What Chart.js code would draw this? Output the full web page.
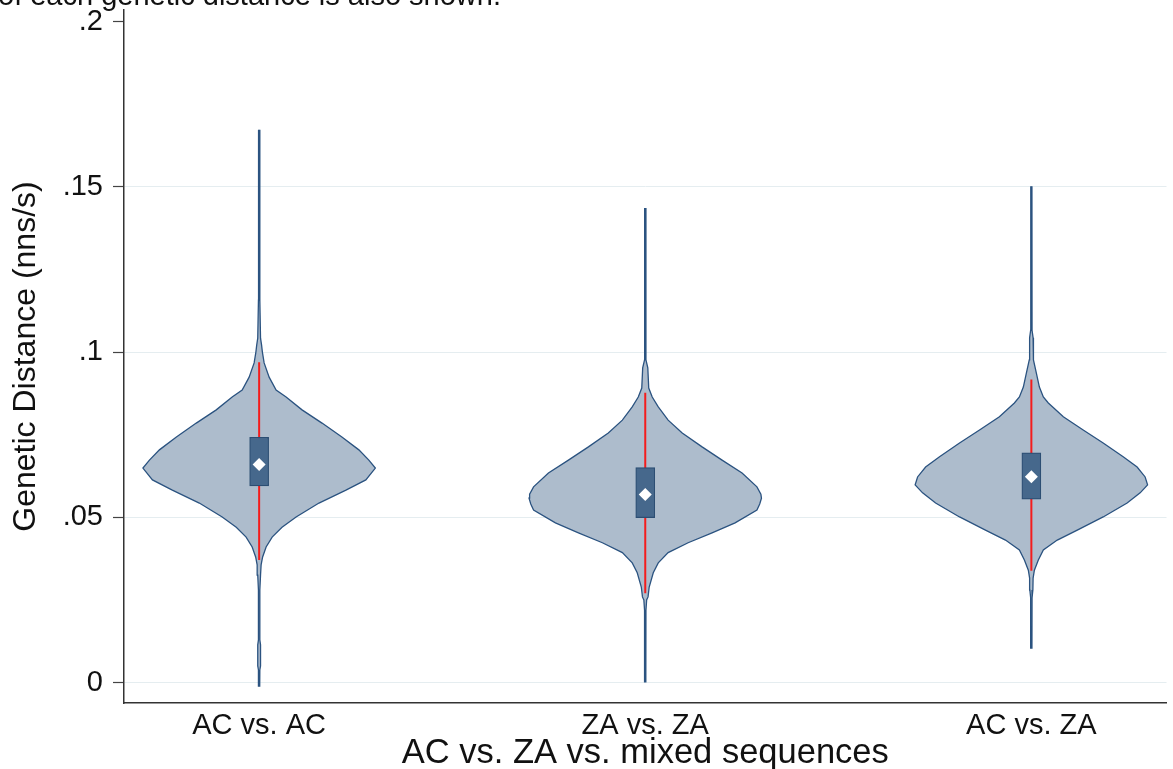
<!DOCTYPE html>
<html>
<head>
<meta charset="utf-8">
<script src="https://cdn.jsdelivr.net/npm/chart.js@4"></script>
<style>
  html, body { margin: 0; padding: 0; background: #fff; overflow: hidden; }
  #wrap { position: relative; width: 1173px; height: 769px; }
  #c { position: absolute; left: 0; top: 0; }
  #cap { position: absolute; left: -2px; top: -19px; font: 29px "Liberation Sans", Arial, sans-serif;
         line-height: 29px; color: #111; white-space: nowrap; }
</style>
</head>
<body>
<div id="wrap">
  <canvas id="c" width="1173" height="769"></canvas>
  <div id="cap">of each genetic distance is also shown.</div>
</div>
<script>
// Groups compared
const categories = ['AC vs. AC', 'ZA vs. ZA', 'AC vs. ZA'];

// Y axis ticks
const yTicks = [0, 0.05, 0.1, 0.15, 0.2];
const yTickLabels = ['0', '.05', '.1', '.15', '.2'];

// Kernel density profiles: distance levels and relative density (1 = peak)
const acAcLevels = [0.1673, 0.1157, 0.1042, 0.1021, 0.1000, 0.0967, 0.0924, 0.0885, 0.0864, 0.0825,
                    0.0785, 0.0743, 0.0704, 0.0673, 0.0649, 0.0613, 0.0582, 0.0543, 0.0501, 0.0470,
                    0.0440, 0.0410, 0.0380, 0.0356, 0.0325, 0.0280, 0.0129, 0.0114, 0.0050, 0.0038, -0.0011];
const acAcDensity = [0.005, 0.006, 0.012, 0.021, 0.028, 0.043, 0.086, 0.146, 0.232, 0.369,
                     0.541, 0.712, 0.858, 0.944, 1.000, 0.918, 0.747, 0.515, 0.318, 0.197,
                     0.112, 0.060, 0.030, 0.017, 0.012, 0.006, 0.006, 0.012, 0.012, 0.006, 0.005];

const zaZaLevels = [0.1436, 0.0976, 0.0952, 0.0891, 0.0864, 0.0834, 0.0794, 0.0755, 0.0713, 0.0673,
                    0.0634, 0.0592, 0.0570, 0.0558, 0.0540, 0.0522, 0.0483, 0.0453, 0.0423, 0.0393,
                    0.0362, 0.0332, 0.0289, 0.0259, 0.0250, 0.0219, 0.0002];
const zaZaDensity = [0.005, 0.006, 0.022, 0.030, 0.060, 0.112, 0.197, 0.318, 0.489, 0.661,
                     0.833, 0.961, 0.995, 1.000, 0.985, 0.961, 0.773, 0.575, 0.369, 0.197,
                     0.112, 0.069, 0.034, 0.024, 0.012, 0.006, 0.005];

const acZaLevels = [0.1502, 0.1066, 0.1043, 0.0976, 0.0936, 0.0894, 0.0864, 0.0846, 0.0804, 0.0764,
                    0.0725, 0.0683, 0.0652, 0.0622, 0.0598, 0.0574, 0.0543, 0.0501, 0.0461, 0.0431,
                    0.0401, 0.0371, 0.0340, 0.0316, 0.0280, 0.0256, 0.0104];
const acZaDensity = [0.005, 0.006, 0.015, 0.018, 0.043, 0.069, 0.103, 0.146, 0.275, 0.446,
                     0.618, 0.790, 0.910, 0.979, 1.000, 0.936, 0.824, 0.618, 0.395, 0.223,
                     0.103, 0.060, 0.026, 0.015, 0.013, 0.006, 0.005];

// Box summaries
const quartile1 = [0.0595, 0.0499, 0.0555];
const quartile3 = [0.0742, 0.0650, 0.0695];
const medians   = [0.0660, 0.0569, 0.0623];
const adjLower  = [0.0371, 0.0270, 0.0338];
const adjUpper  = [0.0969, 0.0877, 0.0917];

const profiles = [
  [acAcLevels, acAcDensity],
  [zaZaLevels, zaZaDensity],
  [acZaLevels, acZaDensity]
];

const VIOLIN_HALF = 0.301;   // half width of a violin at peak density, in category units
const FONT = '"Liberation Sans", Arial, sans-serif';
const INK = '#111';

function violinOutline(i, levels, dens) {
  const right = levels.map((v, k) => ({ x: i + dens[k] * VIOLIN_HALF, y: v }));
  const left = levels.map((v, k) => ({ x: i - dens[k] * VIOLIN_HALF, y: v })).reverse();
  return right.concat(left);
}

const datasets = [];

profiles.forEach(([levels, dens], i) => {
  datasets.push({
    type: 'scatter',
    data: violinOutline(i, levels, dens),
    showLine: true,
    fill: 'shape',
    backgroundColor: '#adbccc',
    borderColor: '#2b5380',
    borderWidth: 1.3,
    pointRadius: 0,
    tension: 0,
    order: 4
  });
  datasets.push({
    type: 'scatter',
    data: [{ x: i, y: adjLower[i] }, { x: i, y: adjUpper[i] }],
    showLine: true,
    fill: false,
    borderColor: '#f41c1c',
    borderWidth: 2,
    pointRadius: 0,
    order: 3
  });
});

datasets.push({
  type: 'bar',
  data: categories.map((c, i) => ({ x: i, y: [quartile1[i], quartile3[i]] })),
  backgroundColor: '#46688c',
  borderColor: '#2c4e73',
  borderWidth: 1.2,
  borderSkipped: false,
  barThickness: 19,
  grouped: false,
  order: 2
});

datasets.push({
  type: 'scatter',
  data: categories.map((c, i) => ({ x: i, y: medians[i] })),
  pointStyle: 'rectRot',
  pointRadius: 6.5,
  backgroundColor: '#ffffff',
  borderWidth: 0,
  order: 1
});

new Chart(document.getElementById('c'), {
  type: 'scatter',
  data: { datasets },
  options: {
    responsive: false,
    animation: false,
    devicePixelRatio: 1,
    layout: { padding: { top: 10, right: 3, left: 0, bottom: 0 } },
    plugins: { legend: { display: false }, tooltip: { enabled: false } },
    scales: {
      x: {
        type: 'linear',
        min: -0.35,
        max: 2.35,
        offset: false,
        afterBuildTicks: s => { s.ticks = categories.map((c, i) => ({ value: i })); },
        afterFit: s => { s.height = 66; s.paddingLeft = 0; s.paddingRight = 0; },
        ticks: {
          callback: v => categories[v],
          autoSkip: false,
          maxRotation: 0,
          padding: 6,
          color: INK,
          font: { family: FONT, size: 29 }
        },
        grid: { display: true, drawOnChartArea: false, drawTicks: false, offset: false },
        border: { display: true, color: '#333', width: 1.5 },
        title: {
          display: true,
          text: 'AC vs. ZA vs. mixed sequences',
          color: INK,
          font: { family: FONT, size: 34.5, lineHeight: 1 },
          padding: { top: 0, bottom: -2 }
        }
      },
      y: {
        type: 'linear',
        min: -0.0062,
        max: 0.2035,
        afterBuildTicks: s => { s.ticks = yTicks.map(v => ({ value: v })); },
        afterFit: s => { s.width = 124; s.paddingTop = 0; s.paddingBottom = 0; },
        ticks: {
          callback: v => yTickLabels[yTicks.indexOf(v)],
          padding: 10,
          color: INK,
          font: { family: FONT, size: 29 }
        },
        grid: {
          color: c => (c.tick && c.tick.value === 0.2) ? 'rgba(0,0,0,0)' : '#e5edf0',
          lineWidth: 1,
          tickColor: '#444',
          tickLength: 11,
          tickWidth: 1.2
        },
        border: { display: true, color: '#333', width: 1.5 },
        title: {
          display: true,
          text: 'Genetic Distance (nns/s)',
          color: INK,
          font: { family: FONT, size: 32, lineHeight: 1 },
          padding: { top: 10 }
        }
      }
    }
  }
});
</script>
</body>
</html>
